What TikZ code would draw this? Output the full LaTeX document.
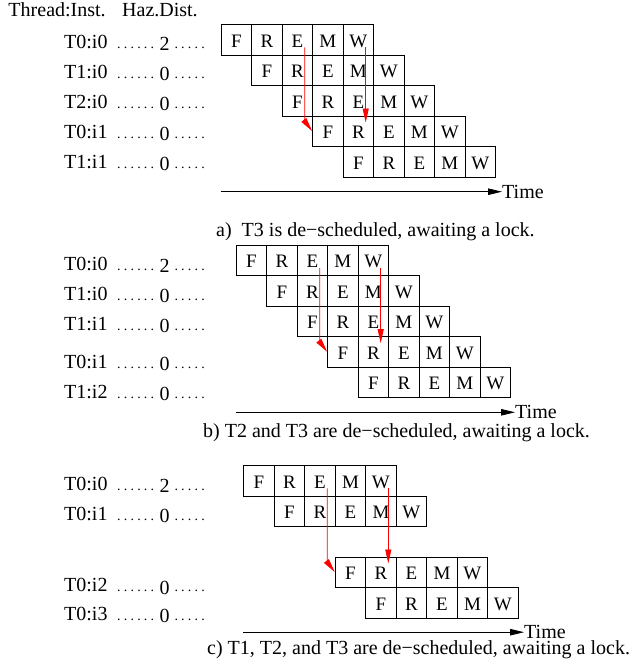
\documentclass[tikz,border=0pt]{standalone}
\usepackage{fontspec}
\setmainfont{Liberation Serif}
\usetikzlibrary{arrows.meta,calc}

\newcommand\txtfont{\fontsize{20}{24}\selectfont}
\newcommand\cellfont{\fontsize{19}{23}\selectfont}
\newcommand\dotfont{\fontsize{14}{16}\selectfont}
% spaced leader dots
\newcommand\dotsix{.\kern3.2pt.\kern3.2pt.\kern3.2pt.\kern3.2pt.\kern3.2pt.}
\newcommand\dotfive{.\kern3.2pt.\kern3.2pt.\kern3.2pt.\kern3.2pt.}
% one "Thread:Inst. ...... dist ....." line: name, baseline, label, distance
\newcommand\hazrow[4]{%
  \node[txt] (#1-l) at (64,#2) {#3};
  \node[txt, font=\dotfont] (#1-d) at (117,#2) {\dotsix};
  \node[txt, anchor=base] (#1-n) at (164.5,{#2+2.5}) {#4};
  \node[txt, font=\dotfont] (#1-e) at (174.3,#2) {\dotfive};
}

\begin{document}
\begin{tikzpicture}[x=1pt, y=-1pt,
  txt/.style={font=\txtfont, inner sep=0pt, anchor=base west},
  cell/.style={draw, line width=0.8pt, minimum width=30.5pt, minimum height=30.5pt,
    inner sep=0pt, text height=14.9pt, text depth=0pt, font=\cellfont, anchor=north west},
  dep/.style={red, line width=0.8pt, -{Triangle[length=14pt,width=6pt]}},
  axis/.style={line width=0.8pt, -{Triangle[length=14pt,width=6.5pt]}}]
\useasboundingbox (0,0) rectangle (636,670);

% header
\node[txt] (h-thr) at (8.3,16.5) {Thread:Inst.};
\node[txt] (h-haz) at (122,16.5) {Haz.Dist.};

% ---------------- panel a ----------------
\hazrow{la0}{48}{T0:i0}{2}
\hazrow{la1}{78}{T1:i0}{0}
\hazrow{la2}{108}{T2:i0}{0}
\hazrow{la3}{138}{T0:i1}{0}
\hazrow{la4}{168}{T1:i1}{0}
\foreach \r in {0,...,4}
  \foreach \l [count=\c from 0] in {F,R,E,M,W}
    \node[cell] (a-\r-\c) at ({220.7+30.5*(\r+\c)},{24+30.5*\r}) {\l};
\coordinate (a-s1) at ([xshift=7.35pt,yshift=-7.75pt]a-0-2.center);
\coordinate (a-b1) at ($(a-s1 |- a-3-0.west)+(0pt,10pt)$);
\draw[dep] (a-s1) -- (a-b1) -- (a-3-0.west);
\coordinate (a-s2) at ([xshift=7.35pt,yshift=-7.75pt]a-0-4.center);
\coordinate (a-e2) at ($(a-s2 |- a-3-1.north)+(0pt,-7pt)$);
\draw[dep] (a-s2) -- (a-e2);
\coordinate (a-ax) at (220.7,191.7);
\node[txt, anchor=west] (a-time) at (502,191.7) {Time};
\draw[axis] (a-ax) -- (a-time.west);
\node[txt] (a-cap) at (216,236) {a)\ \ T3 is de−scheduled, awaiting a lock.};

% ---------------- panel b ----------------
\hazrow{lb0}{270}{T0:i0}{2}
\hazrow{lb1}{300}{T1:i0}{0}
\hazrow{lb2}{330}{T1:i1}{0}
\hazrow{lb3}{368}{T0:i1}{0}
\hazrow{lb4}{398}{T1:i2}{0}
\foreach \r in {0,...,4}
  \foreach \l [count=\c from 0] in {F,R,E,M,W}
    \node[cell] (b-\r-\c) at ({235.7+30.5*(\r+\c)},{244.7+30.5*\r}) {\l};
\coordinate (b-s1) at ([xshift=7.35pt,yshift=-7.75pt]b-0-2.center);
\coordinate (b-b1) at ($(b-s1 |- b-3-0.west)+(0pt,10pt)$);
\draw[dep] (b-s1) -- (b-b1) -- (b-3-0.west);
\coordinate (b-s2) at ([xshift=7.35pt,yshift=-7.75pt]b-0-4.center);
\coordinate (b-e2) at ($(b-s2 |- b-3-1.north)+(0pt,-7pt)$);
\draw[dep] (b-s2) -- (b-e2);
\coordinate (b-ax) at (235.7,412.3);
\node[txt, anchor=west] (b-time) at (515,412.3) {Time};
\draw[axis] (b-ax) -- (b-time.west);
\node[txt] (b-cap) at (203,437) {b) T2 and T3 are de−scheduled, awaiting a lock.};

% ---------------- panel c ----------------
\hazrow{lc0}{490}{T0:i0}{2}
\hazrow{lc1}{520}{T0:i1}{0}
\hazrow{lc2}{591.5}{T0:i2}{0}
\hazrow{lc3}{620}{T0:i3}{0}
\foreach \r/\s in {0/0,1/1,2/3,3/4}
  \foreach \l [count=\c from 0] in {F,R,E,M,W}
    \node[cell] (c-\r-\c) at ({243.3+30.5*(\s+\c)},{465+30.5*\s}) {\l};
\coordinate (c-s1) at ([xshift=7.35pt,yshift=-7.75pt]c-0-2.center);
\coordinate (c-b1) at ($(c-s1 |- c-2-0.west)+(0pt,10pt)$);
\draw[dep] (c-s1) -- (c-b1) -- (c-2-0.west);
\coordinate (c-s2) at ([xshift=7.35pt,yshift=-7.75pt]c-0-4.center);
\coordinate (c-e2) at ($(c-s2 |- c-2-1.north)+(0pt,-7pt)$);
\draw[dep] (c-s2) -- (c-e2);
\coordinate (c-ax) at (243.3,632.2);
\node[txt, anchor=west] (c-time) at (524,632.2) {Time};
\draw[axis] (c-ax) -- (c-time.west);
\node[txt] (c-cap) at (207,654) {c) T1, T2, and T3 are de−scheduled, awaiting a lock.};
\end{tikzpicture}
\end{document}
